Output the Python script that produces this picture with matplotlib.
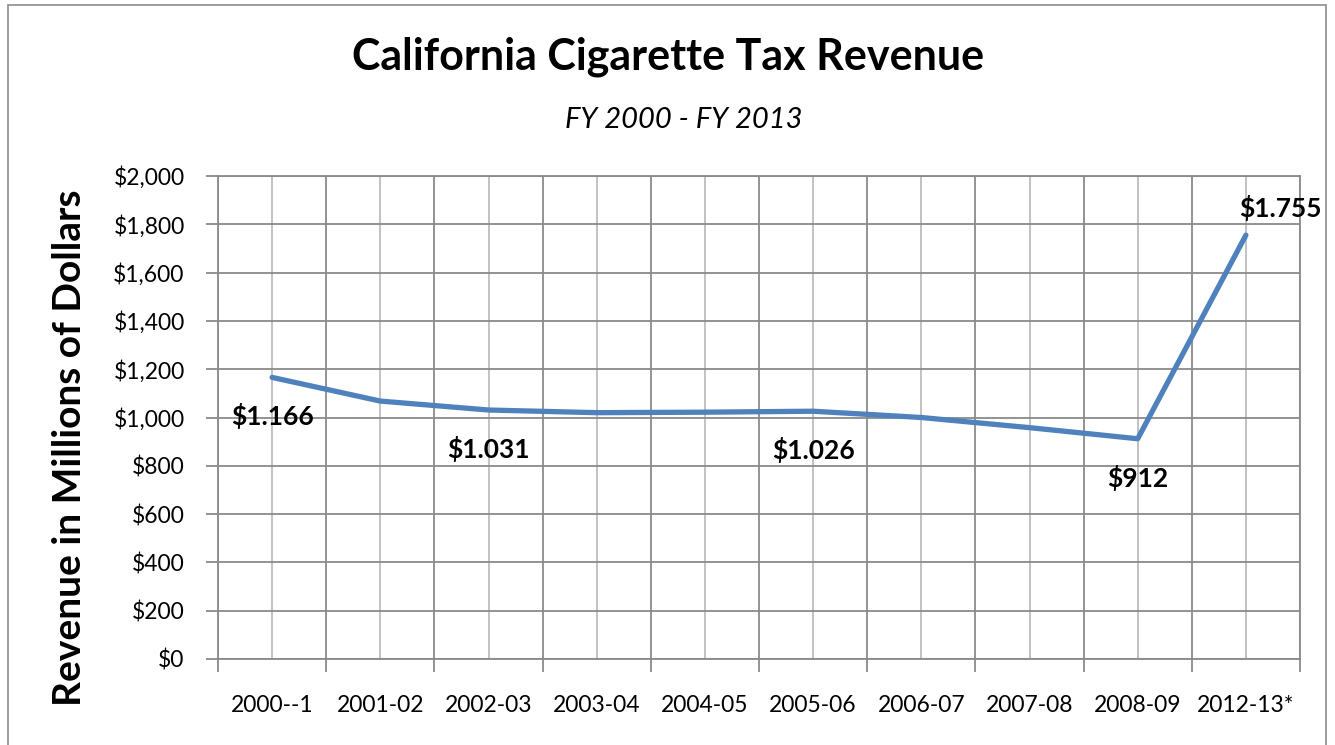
import matplotlib
matplotlib.use("Agg")
import matplotlib.pyplot as plt
from matplotlib.patches import Rectangle
from matplotlib.ticker import FuncFormatter, MultipleLocator

plt.rcParams['font.family'] = ['Lato', 'DejaVu Sans']

# Fiscal years and revenue (millions of dollars)
years = ["2000--1", "2001-02", "2002-03", "2003-04", "2004-05",
         "2005-06", "2006-07", "2007-08", "2008-09", "2012-13*"]
revenue = [1166, 1068, 1031, 1020, 1022, 1026, 1000, 958, 912, 1755]

# Points that carry a value label, with label text and placement
label_idx = [0, 2, 5, 8, 9]
label_text = ["$1.166", "$1.031", "$1.026", "$912", "$1.755"]
label_offset = [(0, -39), (0, -39), (0, -39), (0, -39), (35, 27)]

W, H, DPI = 1335, 745, 100
fig = plt.figure(figsize=(W / DPI, H / DPI), dpi=DPI)
fig.patch.set_facecolor("white")

# Chart frame
fig.add_artist(Rectangle((8 / W, -0.02), (1326 - 8) / W, 1 - 5 / H + 0.02,
                         transform=fig.transFigure, fill=False,
                         edgecolor="#8c8c8c", linewidth=1.2))

ax = fig.add_axes([218 / W, 1 - 659 / H, (1300 - 218) / W, (659 - 176) / H])

x = list(range(len(years)))
ax.plot(x, revenue, color="#4f81bd", linewidth=3.8, solid_capstyle="round",
        solid_joinstyle="round", zorder=3)

ax.set_xlim(-0.5, len(years) - 0.5)
ax.set_ylim(0, 2000)

grid_dark = "#8a8a8a"
grid_light = "#bdbdbd"

# Category boundaries as major ticks, category centres as labelled minor ticks
ax.set_xticks([i - 0.5 for i in range(len(years) + 1)])
ax.set_xticklabels([])
ax.set_xticks(x, minor=True)
ax.set_xticklabels(years, minor=True)
ax.tick_params(axis="x", which="major", length=9, width=1.3, color=grid_dark,
               direction="out")
ax.tick_params(axis="x", which="minor", length=0, pad=26, labelsize=16.5)

ax.yaxis.set_major_locator(MultipleLocator(200))
ax.yaxis.set_major_formatter(FuncFormatter(lambda v, p: "${:,.0f}".format(v)))
ax.tick_params(axis="y", which="major", length=9, width=1.3, color=grid_dark,
               direction="out", pad=15, labelsize=16.5)

ax.grid(True, axis="x", which="major", color=grid_dark, linewidth=1.3)
ax.grid(True, axis="x", which="minor", color=grid_light, linewidth=1.3)
ax.grid(True, axis="y", which="major", color=grid_dark, linewidth=1.3)
ax.set_axisbelow(True)
for s in ax.spines.values():
    s.set_color(grid_dark)
    s.set_linewidth(1.3)

for i, t, off in zip(label_idx, label_text, label_offset):
    ax.annotate(t, (x[i], revenue[i]), xytext=off,
                textcoords="offset pixels", ha="center", va="center",
                fontsize=19, fontweight="bold", color="black", zorder=4)

fig.text(668 / W, 1 - 57 / H, "California Cigarette Tax Revenue",
         ha="center", va="center", fontsize=31, fontweight="bold")
fig.text(684 / W, 1 - 120 / H, "FY 2000 - FY 2013",
         ha="center", va="center", fontsize=21, style="italic")
fig.text(70 / W, 1 - 448 / H, "Revenue in Millions of Dollars",
         ha="center", va="center", fontsize=28, fontweight="bold",
         rotation=90)

fig.savefig("out.png", dpi=DPI)
